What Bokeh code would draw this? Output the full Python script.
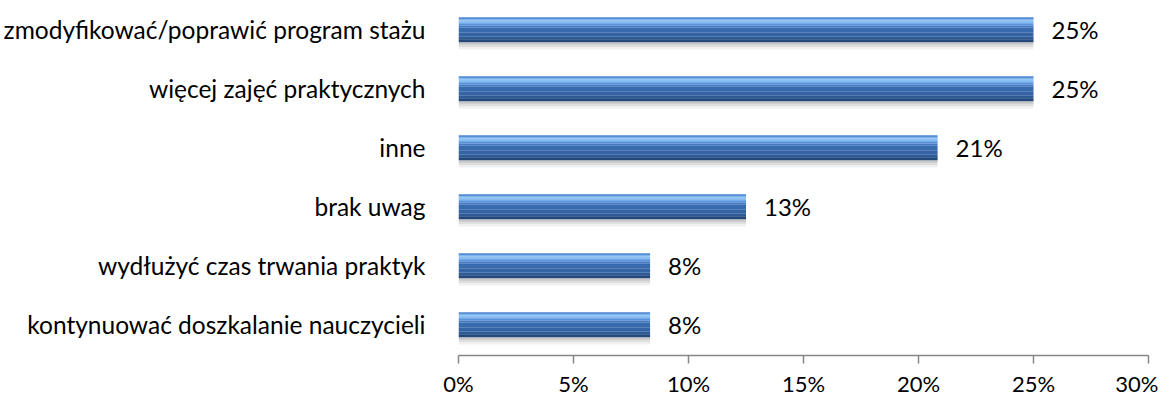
from bokeh.plotting import figure
from bokeh.models import Range1d, ColumnDataSource, FixedTicker, LabelSet
from bokeh.core.properties import value
from bokeh.embed import file_html
from bokeh.resources import INLINE

categories = [
    "kontynuować doszkalanie nauczycieli",
    "wydłużyć czas trwania praktyk",
    "brak uwag",
    "inne",
    "więcej zajęć praktycznych",
    "zmodyfikować/poprawić program stażu",
]
values = [8.33, 8.33, 12.5, 20.83, 25.0, 25.0]
value_labels = ["8%", "8%", "13%", "21%", "25%", "25%"]
x_ticks = [0, 5, 10, 15, 20, 25, 30]

FONT = "Lato"
pos = list(range(len(categories)))
H = 0.42

# vertical gradient bands of each bar: (from-top fraction start, end, colour)
bands = [
    (0.00, 0.06, "#4C84CE"),
    (0.06, 0.12, "#7DB4EE"),
    (0.12, 0.20, "#8CC1F4"),
    (0.20, 0.27, "#74ABEA"),
    (0.27, 0.34, "#5A92DA"),
    (0.34, 0.42, "#4479C2"),
    (0.42, 0.60, "#386BAE"),
    (0.60, 0.78, "#3464A5"),
    (0.78, 0.90, "#2E5A95"),
    (0.90, 1.00, "#244879"),
]
# shadow bands below each bar: (below-bottom fraction start, end, alpha)
shadow = [(0.0, 0.10, 0.22), (0.10, 0.20, 0.13), (0.20, 0.30, 0.06)]

data = dict(y=pos, right=values, lab=value_labels)
for i, (a, b, _) in enumerate(bands):
    data[f"b{i}"] = [p + H / 2 - H * (a + b) / 2 for p in pos]
for i, (a, b, _) in enumerate(shadow):
    data[f"s{i}"] = [p - H / 2 - H * (a + b) / 2 for p in pos]
src = ColumnDataSource(data)

p = figure(width=1158, height=399, output_backend="svg", toolbar_location=None,
           x_range=Range1d(0, 30), y_range=Range1d(-0.521, 5.496),
           min_border_left=458, min_border_right=10, min_border_top=0, min_border_bottom=41)
p.outline_line_color = None
p.grid.grid_line_color = None
p.background_fill_color = "white"

for i, (a, b, al) in enumerate(shadow):
    p.hbar(y=f"s{i}", right="right", left=0, height=H * (b - a), source=src,
           fill_color="#000000", fill_alpha=al, line_color=None)
for i, (a, b, c) in enumerate(bands):
    p.hbar(y=f"b{i}", right="right", left=0, height=H * (b - a) * 1.05, source=src,
           fill_color=c, line_color=None)

labels = LabelSet(x="right", y="y", text="lab", source=src, x_offset=18,
                  text_baseline="middle", text_align="left",
                  text_font=value(FONT), text_font_size="24px", text_color="#000000")
p.add_layout(labels)

p.xaxis.ticker = FixedTicker(ticks=x_ticks)
p.xaxis.major_label_overrides = {t: f"{t}%" for t in x_ticks}
p.xaxis.axis_line_color = "#868686"
p.xaxis.axis_line_width = 1.5
p.xaxis.major_tick_line_color = "#868686"
p.xaxis.major_tick_line_width = 1.5
p.xaxis.major_tick_out = 8
p.xaxis.major_tick_in = 0
p.xaxis.minor_tick_line_color = None
p.xaxis.major_label_text_font = FONT
p.xaxis.major_label_text_font_size = "22px"
p.xaxis.major_label_text_color = "#000000"
p.xaxis.major_label_standoff = 6

p.yaxis.ticker = FixedTicker(ticks=pos)
p.yaxis.major_label_overrides = {i: c for i, c in zip(pos, categories)}
p.yaxis.axis_line_color = None
p.yaxis.major_tick_line_color = None
p.yaxis.minor_tick_line_color = None
p.yaxis.major_label_text_font = FONT
p.yaxis.major_label_text_font_size = "24.5px"
p.yaxis.major_label_text_color = "#000000"
p.yaxis.major_label_standoff = 27

open("out.html", "w").write(file_html(p, INLINE))
